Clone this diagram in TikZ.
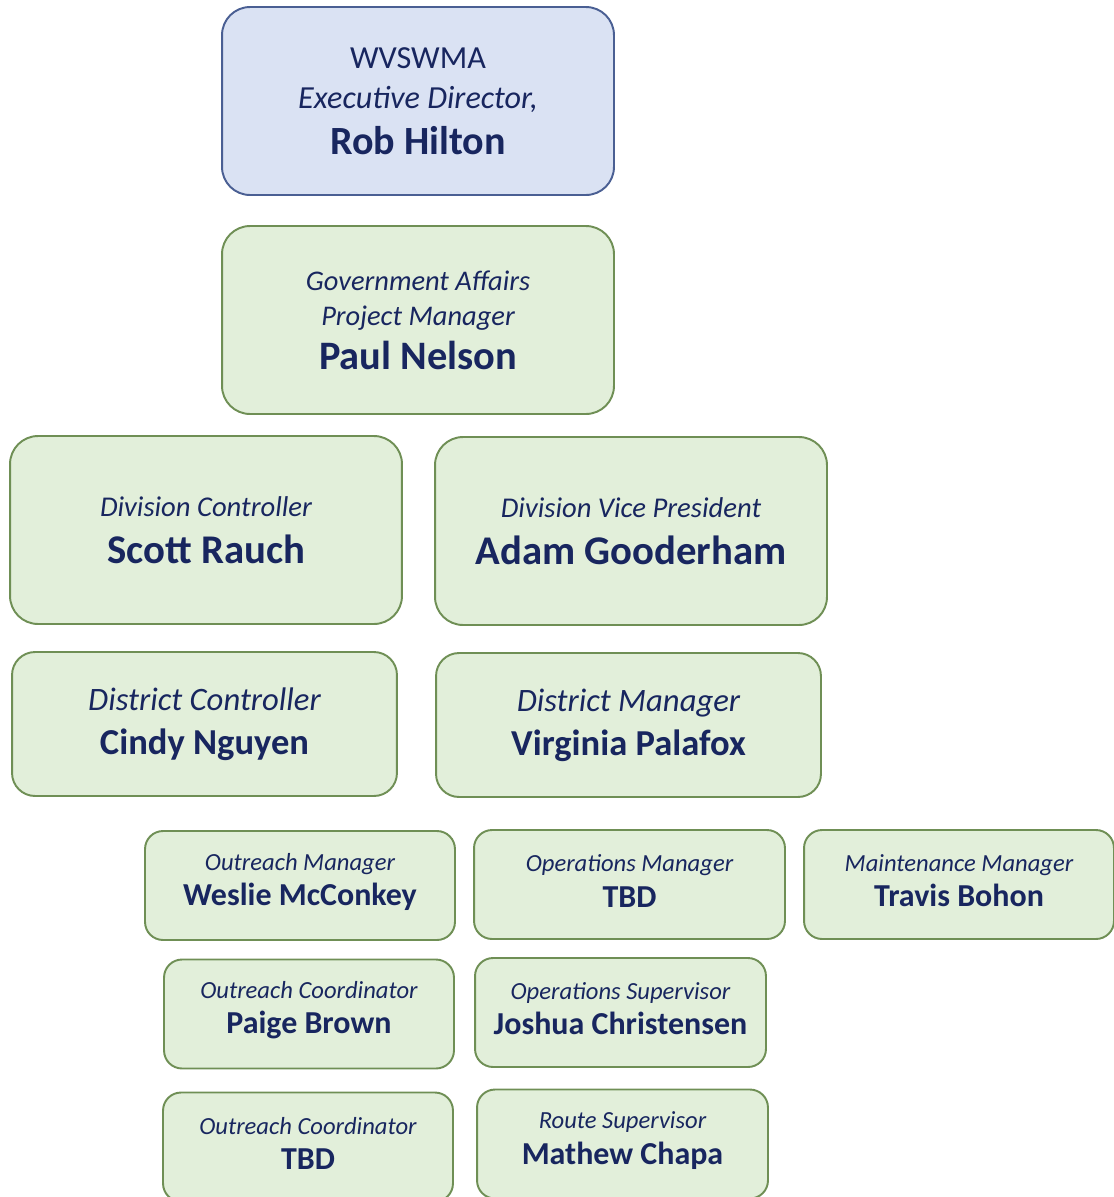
\documentclass[tikz,border=0pt]{standalone}
\usepackage{fontspec}
\setmainfont{Carlito}
\usepackage{tikz}

\definecolor{navytext}{HTML}{18265F}
\definecolor{bluefill}{HTML}{DAE2F3}
\definecolor{blueline}{HTML}{4A5F93}
\definecolor{greenfill}{HTML}{E2EFDA}
\definecolor{greenline}{HTML}{6F8F55}

\tikzset{
  card/.style={draw=greenline, fill=greenfill, line width=1.1pt, text=navytext,
    align=center, inner sep=0pt, rounded corners=0.56cm},
  bigcard/.style={card, minimum width=7.84cm, minimum height=3.76cm},
  midcard/.style={card, minimum width=7.7cm, minimum height=2.88cm, rounded corners=0.46cm},
  smallcard/.style={card, minimum height=2.18cm, rounded corners=0.36cm}
}

\begin{document}
\begin{tikzpicture}[x=0.02cm, y=-0.02cm]
\useasboundingbox (0,0) rectangle (1114,1197);

% top of the chart
\node[bigcard, draw=blueline, fill=bluefill, font=\fontsize{18.3}{22.7}\selectfont] (hilton) at (418,101)
  {WVSWMA\\{\itshape Executive Director,}\\[3.5pt]{\fontsize{22.8}{26}\selectfont\bfseries Rob Hilton}};
\node[bigcard, font=\fontsize{16.2}{20}\selectfont] (nelson) at (418,320)
  {{\itshape Government Affairs}\\{\itshape Project Manager}\\[5pt]{\fontsize{23}{26}\selectfont\bfseries Paul Nelson}};

% division
\node[bigcard, font=\fontsize{16.3}{26.6}\selectfont] (rauch) at (206,530)
  {{\itshape Division Controller}\\{\fontsize{23.2}{26}\selectfont\bfseries Scott Rauch}};
\node[bigcard, font=\fontsize{16.3}{26.6}\selectfont] (gooderham) at (631,531)
  {{\itshape Division Vice President}\\{\fontsize{23.2}{26}\selectfont\bfseries Adam Gooderham}};

% district
\node[midcard, font=\fontsize{18.6}{25}\selectfont] (nguyen) at (204.5,724)
  {{\itshape District Controller}\\{\fontsize{20.8}{24}\selectfont\bfseries Cindy Nguyen}};
\node[midcard, font=\fontsize{18.6}{25}\selectfont] (palafox) at (628.5,725)
  {{\itshape District Manager}\\{\fontsize{20.8}{24}\selectfont\bfseries Virginia Palafox}};

% managers and staff
\foreach \id/\x/\y/\w/\role/\who in {
  mcconkey/300/885.5/6.2/Outreach Manager/Weslie McConkey,
  opsmgr/629.5/884.5/6.22/Operations Manager/TBD,
  bohon/959/884.5/6.2/Maintenance Manager/Travis Bohon,
  brown/309/1014/5.8/Outreach Coordinator/Paige Brown,
  christensen/620.5/1012.5/5.82/Operations Supervisor/Joshua Christensen,
  outreachtbd/308/1147/5.8/Outreach Coordinator/TBD,
  chapa/622.5/1144/5.82/Route Supervisor/Mathew Chapa} {
  \node[smallcard, minimum width=\w cm] (\id) at (\x,\y) {};
  \node[text=navytext, align=center, font=\fontsize{14}{20}\selectfont] (\id-txt) at ([yshift=0.07cm]\id.center)
    {{\itshape \role}\\{\fontsize{18.2}{20}\selectfont\bfseries \who}};
}
\end{tikzpicture}
\end{document}
